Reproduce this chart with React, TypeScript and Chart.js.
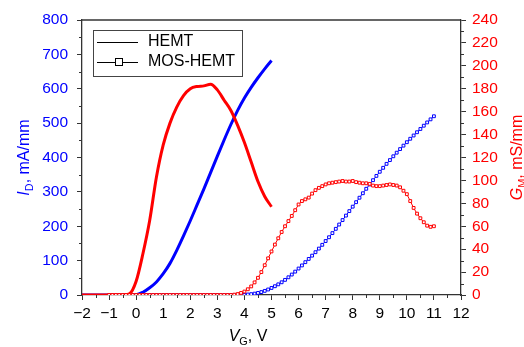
import React, { useEffect, useRef } from 'react';
import { Chart, registerables } from 'chart.js';

Chart.register(...registerables);

// ---------------- data ----------------
const HEMT_VG = [
  -2, -1.75, -1.5, -1.25, -1, -0.75, -0.5, -0.25,
  0, 0.25, 0.5, 0.75, 1, 1.25, 1.5, 1.75,
  2, 2.25, 2.5, 2.75, 3, 3.25, 3.5, 3.75,
  4, 4.25, 4.5, 4.75, 5,
];
const HEMT_ID = [
  0, 0, 0, 0, 0, 0, 0, 0,
  0.5, 8, 21, 38, 62, 92, 130, 172,
  216, 262, 308, 356, 404, 451, 496, 537,
  573, 604, 632, 658, 682,
];
const HEMT_GM = [
  0, 0, 0, 0, 0, 0, 0, 1,
  12, 36, 65, 103, 131, 150, 164, 174,
  180, 182, 182.5, 184, 179, 170, 161, 148,
  133, 116, 99, 86, 77,
];

const MOS_VG = [
  -1, -0.875, -0.75, -0.625, -0.5, -0.375, -0.25, -0.125,
  0, 0.125, 0.25, 0.375, 0.5, 0.625, 0.75, 0.875,
  1, 1.125, 1.25, 1.375, 1.5, 1.625, 1.75, 1.875,
  2, 2.125, 2.25, 2.375, 2.5, 2.625, 2.75, 2.875,
  3, 3.125, 3.25, 3.375, 3.5, 3.625, 3.75, 3.875,
  4, 4.125, 4.25, 4.375, 4.5, 4.625, 4.75, 4.875,
  5, 5.125, 5.25, 5.375, 5.5, 5.625, 5.75, 5.875,
  6, 6.125, 6.25, 6.375, 6.5, 6.625, 6.75, 6.875,
  7, 7.125, 7.25, 7.375, 7.5, 7.625, 7.75, 7.875,
  8, 8.125, 8.25, 8.375, 8.5, 8.625, 8.75, 8.875,
  9, 9.125, 9.25, 9.375, 9.5, 9.625, 9.75, 9.875,
  10, 10.125, 10.25, 10.375, 10.5, 10.625, 10.75, 10.875,
  11,
];
const MOS_ID = [
  0, 0, 0, 0, 0, 0, 0, 0,
  0, 0, 0, 0, 0, 0, 0, 0,
  0, 0, 0, 0, 0, 0, 0, 0,
  0, 0, 0, 0, 0, 0, 0, 0,
  0, 0, 0, 0, 0, 0, 0, 0,
  0.5, 1.5, 2.5, 4, 6, 8.5, 12, 16,
  20.5, 25.5, 31, 37, 44, 51.5, 59.5, 68,
  77, 86, 95.5, 105, 114.5, 124.5, 135, 146,
  157, 168, 180, 192.5, 205, 218, 231, 244,
  257, 270, 283, 296, 309, 321.5, 334, 346.5,
  358.5, 370, 381.5, 392.5, 403.5, 414, 424.5, 434.5,
  444.5, 454.5, 464, 473.5, 483, 492.5, 502, 511,
  520,
];
const MOS_GM = [
  0, 0, 0, 0, 0, 0, 0, 0,
  0, 0, 0, 0, 0, 0, 0, 0,
  0, 0, 0, 0, 0, 0, 0, 0,
  0, 0, 0, 0, 0, 0, 0, 0,
  0, 0, 0, 0, 0, 0.3, 0.8, 1.8,
  3, 5, 7.5, 11, 15, 20, 26, 32,
  38, 44, 49.5, 55, 60, 64.5, 69, 74,
  79, 82, 83.5, 85, 88.5, 91.5, 93.5, 95,
  96.5, 97.5, 98, 98.5, 99, 99.5, 99, 99,
  99.5, 98.5, 98, 97.5, 97.5, 97, 95.5, 95,
  95, 95.5, 96, 96.5, 96, 95.5, 94, 91,
  88, 82, 76, 71, 67, 63.5, 60.5, 59.5,
  60,
];

const SERIES_NAMES = ['HEMT', 'MOS-HEMT'];

// ---------------- styles ----------------
const BLUE = '#0000ff';
const RED = '#ff0000';
const AXIS = '#333333';
const FONT = "'Liberation Sans', Arial, Helvetica, sans-serif";
const TICK_SIZE = 15.5;

type Part = { text: string; italic?: boolean; sub?: boolean };

function drawRich(ctx: CanvasRenderingContext2D, parts: Part[], x: number, y: number, size: number, color: string) {
  let total = 0;
  const items = parts.map((p) => {
    const fs = p.sub ? size * 0.68 : size;
    const font = `${p.italic ? 'italic ' : ''}${fs}px ${FONT}`;
    ctx.font = font;
    const w = ctx.measureText(p.text).width;
    total += w;
    return { ...p, font, w };
  });
  let cx = x - total / 2;
  ctx.fillStyle = color;
  ctx.textBaseline = 'alphabetic';
  ctx.textAlign = 'left';
  for (const it of items) {
    ctx.font = it.font;
    ctx.fillText(it.text, cx, y + (it.sub ? size * 0.27 : 0));
    cx += it.w;
  }
}

const decorPlugin = {
  id: 'decor',
  afterDraw(chart: any) {
    const ctx: CanvasRenderingContext2D = chart.ctx;
    const { left, right, top, bottom } = chart.chartArea;
    const xs = chart.scales.x;
    const ys = chart.scales.y;
    const y1 = chart.scales.y1;
    ctx.save();
    // top frame
    ctx.strokeStyle = AXIS;
    ctx.lineWidth = 1.3;
    ctx.beginPath();
    ctx.moveTo(left, top);
    ctx.lineTo(right, top);
    ctx.stroke();
    // minor ticks
    ctx.lineWidth = 1;
    ctx.beginPath();
    for (let v = -1.5; v < 12; v += 1) {
      const px = Math.round(xs.getPixelForValue(v)) + 0.5;
      ctx.moveTo(px, bottom);
      ctx.lineTo(px, bottom + 3);
    }
    for (let v = 50; v < 800; v += 100) {
      const py = Math.round(ys.getPixelForValue(v)) + 0.5;
      ctx.moveTo(left, py);
      ctx.lineTo(left - 3, py);
    }
    for (let v = 10; v < 240; v += 20) {
      const py = Math.round(y1.getPixelForValue(v)) + 0.5;
      ctx.moveTo(right, py);
      ctx.lineTo(right + 3, py);
    }
    ctx.stroke();

    // axis titles
    drawRich(ctx, [{ text: 'V', italic: true }, { text: 'G', sub: true }, { text: ', V' }], 248, 341, 16, '#000');
    ctx.save();
    ctx.translate(23, (top + bottom) / 2);
    ctx.rotate(-Math.PI / 2);
    drawRich(ctx, [{ text: 'I', italic: true }, { text: 'D', sub: true }, { text: ', mA/mm' }], 0, 5.5, 16, BLUE);
    ctx.restore();
    ctx.save();
    ctx.translate(516, (top + bottom) / 2);
    ctx.rotate(-Math.PI / 2);
    drawRich(ctx, [{ text: 'G', italic: true }, { text: 'M', sub: true }, { text: ', mS/mm' }], 0, 5.5, 16, RED);
    ctx.restore();

    // legend
    const bx = 93, by = 30, bw = 149, bh = 46;
    ctx.fillStyle = '#fff';
    ctx.fillRect(bx, by, bw, bh);
    ctx.strokeStyle = '#444';
    ctx.lineWidth = 1;
    ctx.strokeRect(bx + 0.5, by + 0.5, bw, bh);
    ctx.strokeStyle = '#000';
    ctx.beginPath();
    ctx.moveTo(97, 42.5);
    ctx.lineTo(138, 42.5);
    ctx.moveTo(97, 62.5);
    ctx.lineTo(138, 62.5);
    ctx.stroke();
    ctx.fillStyle = '#fff';
    ctx.fillRect(115, 58, 8, 8);
    ctx.strokeRect(115.5, 58.5, 7, 7);
    ctx.fillStyle = '#000';
    ctx.font = `16px ${FONT}`;
    ctx.textAlign = 'left';
    ctx.textBaseline = 'middle';
    ctx.fillText(SERIES_NAMES[0], 148, 42);
    ctx.fillText(SERIES_NAMES[1], 148, 62);
    ctx.restore();
  },
};

export default function App() {
  const ref = useRef<HTMLCanvasElement>(null);
  useEffect(() => {
    if (!ref.current) return;
    const zip = (xs: number[], ys: number[]) => xs.map((x, i) => ({ x, y: ys[i] }));
    const chart = new Chart(ref.current, {
      type: 'line',
      data: {
        datasets: [
          {
            label: SERIES_NAMES[1] + ' GM',
            data: zip(MOS_VG, MOS_GM),
            yAxisID: 'y1',
            borderColor: RED,
            borderWidth: 1,
            pointStyle: 'rect',
            pointRadius: 2,
            pointBorderWidth: 1,
            pointBorderColor: RED,
            pointBackgroundColor: '#fff',
            tension: 0,
            order: 0,
          },
          {
            label: SERIES_NAMES[0] + ' GM',
            data: zip(HEMT_VG, HEMT_GM),
            yAxisID: 'y1',
            borderColor: RED,
            borderWidth: 3,
            pointRadius: 0,
            cubicInterpolationMode: 'monotone',
            order: 1,
          },
          {
            label: SERIES_NAMES[0] + ' ID',
            data: zip(HEMT_VG, HEMT_ID),
            yAxisID: 'y',
            borderColor: BLUE,
            borderWidth: 3,
            pointRadius: 0,
            cubicInterpolationMode: 'monotone',
            order: 2,
          },
          {
            label: SERIES_NAMES[1] + ' ID',
            data: zip(MOS_VG, MOS_ID),
            yAxisID: 'y',
            borderColor: BLUE,
            borderWidth: 1,
            pointStyle: 'rect',
            pointRadius: 2,
            pointBorderWidth: 1,
            pointBorderColor: BLUE,
            pointBackgroundColor: '#fff',
            tension: 0,
            order: 3,
          },
        ],
      },
      options: {
        responsive: false,
        animation: false,
        devicePixelRatio: 1,
        layout: { padding: { top: 20, left: 0, right: 0, bottom: 0 } },
        plugins: { legend: { display: false }, tooltip: { enabled: false } },
        scales: {
          x: {
            type: 'linear',
            min: -2,
            max: 12,
            afterFit: (s: any) => { s.height = 52; },
            border: { display: true, color: AXIS, width: 1.3 },
            grid: { drawOnChartArea: false, drawTicks: true, tickLength: 5, color: AXIS },
            ticks: {
              stepSize: 1,
              padding: 4,
              color: '#000',
              font: { family: FONT, size: TICK_SIZE },
              callback: (v: any) => String(v).replace('-', '\u2212'),
            },
          },
          y: {
            type: 'linear',
            position: 'left',
            min: 0,
            max: 800,
            afterFit: (s: any) => { s.width = 82; },
            border: { display: true, color: AXIS, width: 1.3 },
            grid: { drawOnChartArea: false, drawTicks: true, tickLength: 5, color: AXIS },
            ticks: { stepSize: 100, padding: 9, color: BLUE, font: { family: FONT, size: TICK_SIZE } },
          },
          y1: {
            type: 'linear',
            position: 'right',
            min: 0,
            max: 240,
            afterFit: (s: any) => { s.width = 63; },
            border: { display: true, color: AXIS, width: 1.3 },
            grid: { drawOnChartArea: false, drawTicks: true, tickLength: 5, color: AXIS },
            ticks: { stepSize: 20, padding: 6, color: RED, font: { family: FONT, size: TICK_SIZE } },
          },
        },
      },
      plugins: [decorPlugin],
    } as any);
    return () => chart.destroy();
  }, []);
  return (
    <div style={{ position: 'fixed', left: 0, top: 0, width: 524, height: 347, background: '#fff' }}>
      <canvas ref={ref} width={524} height={347} />
    </div>
  );
}
